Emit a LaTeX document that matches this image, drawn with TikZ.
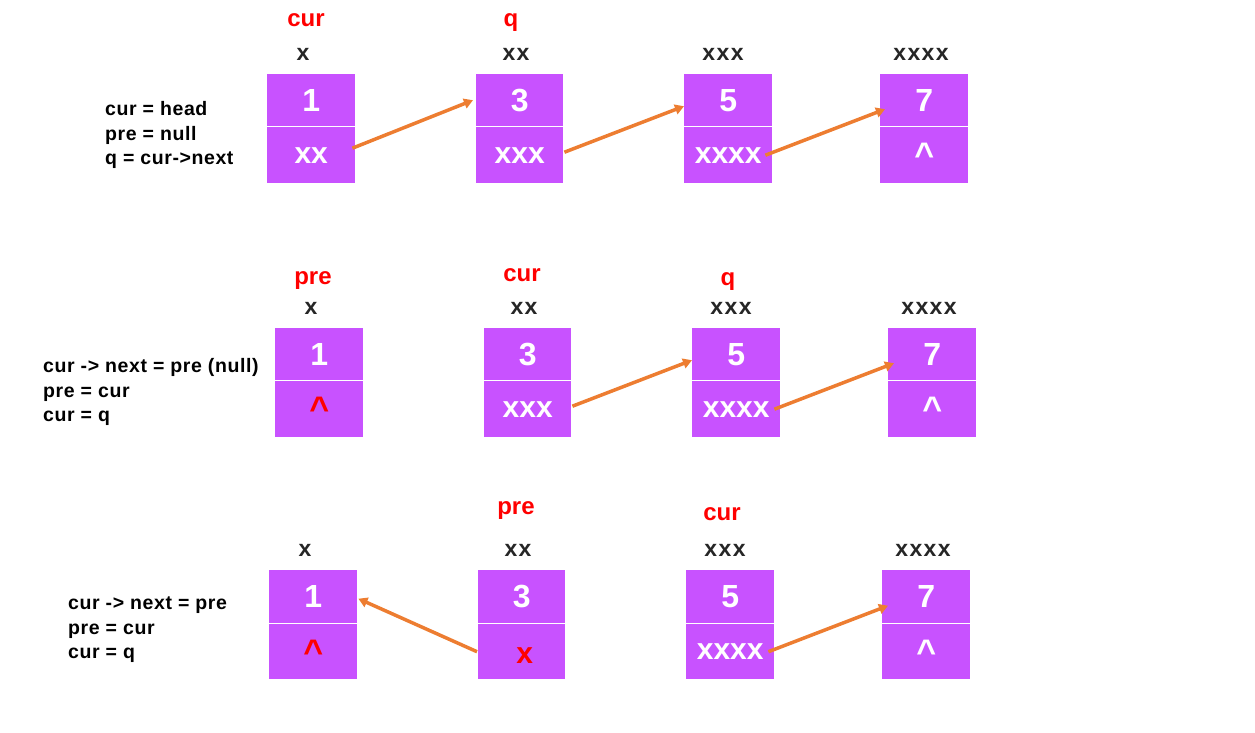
\documentclass[tikz,border=0pt]{standalone}
\usepackage{fontspec}
\setmainfont{Liberation Sans}
\usetikzlibrary{arrows.meta}
\definecolor{cellpurple}{RGB}{200,82,255}
\definecolor{arrorange}{RGB}{237,125,49}
\definecolor{addrgray}{RGB}{38,38,38}
\newcommand{\nullmark}{\raisebox{-9pt}{\fontsize{34}{34}\selectfont\textasciicircum}}
\begin{document}
\begin{tikzpicture}[x=1pt,y=-1pt,
  celltop/.style={fill=cellpurple, minimum width=88pt, minimum height=52pt, anchor=north west, inner sep=0pt, text=white, font=\bfseries\fontsize{32}{32}\selectfont},
  cellbot/.style={fill=cellpurple, minimum width=88pt, minimum height=56pt, anchor=north west, inner sep=0pt, text=white, font=\bfseries\fontsize{30}{30}\selectfont},
  addr/.style={text=addrgray, font=\bfseries\fontsize{23}{23}\selectfont\addfontfeatures{LetterSpace=6}},
  ptr/.style={text=red, font=\bfseries\fontsize{24}{24}\selectfont},
  note/.style={anchor=west, align=left, inner sep=0pt, font=\bfseries\fontsize{19.5}{24.5}\selectfont\addfontfeatures{LetterSpace=3}},
  link/.style={draw=arrorange, line width=3.5pt, -{Triangle[length=9pt,width=10pt]}}
]
\useasboundingbox (0,0) rectangle (1255,733);

% ---------- row 1 ----------
\node[note] (n1) at (105,135) {cur = head\\pre = null\\q = cur->next};
\node[celltop] (r1at) at (267,74) {1};
\node[cellbot] (r1ab) at (267,127) {xx};
\node[celltop, minimum width=87pt] (r1bt) at (476,74) {3};
\node[cellbot, minimum width=87pt] (r1bb) at (476,127) {xxx};
\node[celltop] (r1ct) at (684,74) {5};
\node[cellbot] (r1cb) at (684,127) {xxxx};
\node[celltop] (r1dt) at (880,74) {7};
\node[cellbot] (r1db) at (880,127) {\nullmark};
\node[addr] (r1ax) at (303,54) {x};
\node[addr] (r1bx) at (516,54) {xx};
\node[addr] (r1cx) at (723,54) {xxx};
\node[addr] (r1dx) at (921,54) {xxxx};
\node[ptr] (r1cur) at (306,20) {cur};
\node[ptr] (r1q) at (511,23) {q};
\draw[link] ([xshift=-3pt,yshift=7pt]r1ab.east) -- ([xshift=-3pt]r1bt.west);
\draw[link] ([xshift=1pt,yshift=3pt]r1bb.east) -- ([xshift=0pt,yshift=-6pt]r1ct.west);
\draw[link] ([xshift=-7pt]r1cb.east) -- ([xshift=5pt,yshift=-9pt]r1dt.west);

% ---------- row 2 ----------
\node[note] (n2) at (43,392) {cur -> next = pre (null)\\pre = cur\\cur = q};
\node[celltop] (r2at) at (275,328) {1};
\node[cellbot, text=red] (r2ab) at (275,381) {\nullmark};
\node[celltop, minimum width=87pt] (r2bt) at (484,328) {3};
\node[cellbot, minimum width=87pt] (r2bb) at (484,381) {xxx};
\node[celltop] (r2ct) at (692,328) {5};
\node[cellbot] (r2cb) at (692,381) {xxxx};
\node[celltop] (r2dt) at (888,328) {7};
\node[cellbot] (r2db) at (888,381) {\nullmark};
\node[addr] (r2ax) at (311,308) {x};
\node[addr] (r2bx) at (524,308) {xx};
\node[addr] (r2cx) at (731,308) {xxx};
\node[addr] (r2dx) at (929,308) {xxxx};
\node[ptr] (r2pre) at (313,281) {pre};
\node[ptr] (r2cur) at (522,275) {cur};
\node[ptr] (r2q) at (728,282) {q};
\draw[link] ([xshift=1pt,yshift=3pt]r2bb.east) -- ([xshift=0pt,yshift=-6pt]r2ct.west);
\draw[link] ([xshift=-6pt]r2cb.east) -- ([xshift=6pt,yshift=-9pt]r2dt.west);

% ---------- row 3 ----------
\node[note] (n3) at (68,630) {cur -> next = pre\\pre = cur\\cur = q};
\node[celltop, minimum height=53pt] (r3at) at (269,570) {1};
\node[cellbot, minimum height=55pt, text=red] (r3ab) at (269,624) {\nullmark};
\node[celltop, minimum width=87pt, minimum height=53pt] (r3bt) at (478,570) {3};
\node[cellbot, minimum width=87pt, minimum height=55pt, text=red] (r3bb) at (478,624) {\hspace{6pt}\smash{\raisebox{-12pt}{x}}};
\node[celltop, minimum height=53pt] (r3ct) at (686,570) {5};
\node[cellbot, minimum height=55pt] (r3cb) at (686,624) {xxxx};
\node[celltop, minimum height=53pt] (r3dt) at (882,570) {7};
\node[cellbot, minimum height=55pt] (r3db) at (882,624) {\nullmark};
\node[addr] (r3ax) at (305,550) {x};
\node[addr] (r3bx) at (518,550) {xx};
\node[addr] (r3cx) at (725,550) {xxx};
\node[addr] (r3dx) at (923,550) {xxxx};
\node[ptr] (r3pre) at (516,511) {pre};
\node[ptr] (r3cur) at (722,514) {cur};
\draw[link] ([xshift=-1pt,yshift=-0pt]r3bb.west) -- ([xshift=1pt,yshift=-2pt]r3at.east);
\draw[link] ([xshift=-6pt]r3cb.east) -- ([xshift=6pt,yshift=-9pt]r3dt.west);
\end{tikzpicture}
\end{document}
